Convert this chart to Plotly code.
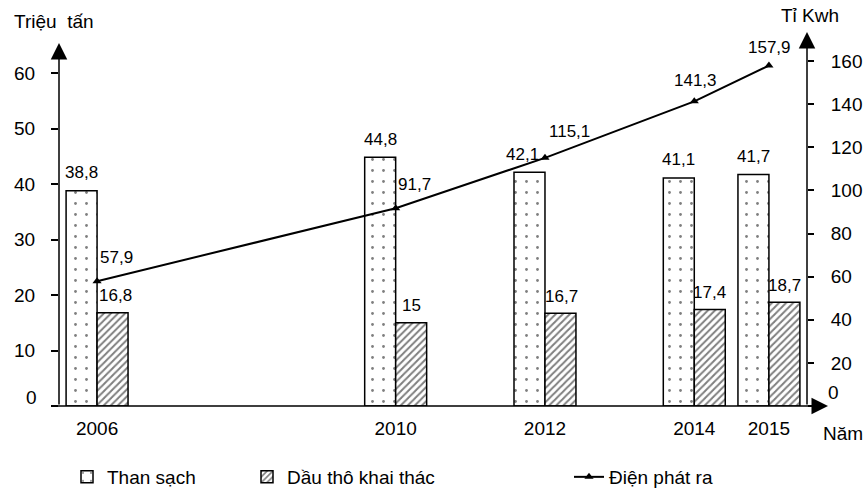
import plotly.graph_objects as go

# ---- data ----
years = [2006, 2010, 2012, 2014, 2015]
year_labels = ["2006", "2010", "2012", "2014", "2015"]
than_sach = [38.8, 44.8, 42.1, 41.1, 41.7]          # Triệu tấn
dau_tho = [16.8, 15.0, 16.7, 17.4, 18.7]            # Triệu tấn
dien = [57.9, 91.7, 115.1, 141.3, 157.9]            # Tỉ Kwh
than_text = ["38,8", "44,8", "42,1", "41,1", "41,7"]
dau_text = ["16,8", "15", "16,7", "17,4", "18,7"]
dien_text = ["57,9", "91,7", "115,1", "141,3", "157,9"]
left_ticks = [0, 10, 20, 30, 40, 50, 60]
right_ticks = [0, 20, 40, 60, 80, 100, 120, 140, 160]

# ---- style ----
FONT = "Arial, Liberation Sans, sans-serif"
W, H = 867, 491
ML, MR, MT, MB = 59, 60, 33, 85
PW, PH = W - ML - MR, H - MT - MB
BW = 0.415
than_dx = [0, 0, -7, 0, 0]
dau_dx = [3, 0, 1, 0, 0]
dien_off = [(19, 24), (19, 24), (25, 26), (1, 21), (1, 18)]
TFS = 19   # general text size
DFS = 17   # data label size


def px_x(px):
    return (px - ML) / PW


def px_y(py):
    return (H - MB - py) / PH


fig = go.Figure()
fig.add_trace(go.Bar(
    x=years, y=than_sach, name="Than sạch", width=BW, offset=-BW,
    marker=dict(color="white", line=dict(color="black", width=1.5),
                pattern=dict(shape=".", fgcolor="black", bgcolor="white", size=11, solidity=0.05)),
    legend="legend",
))
fig.add_trace(go.Bar(
    x=years, y=dau_tho, name="Dầu thô khai thác", width=BW, offset=0,
    marker=dict(color="white", line=dict(color="black", width=1.5),
                pattern=dict(shape="/", fgcolor="black", bgcolor="white", size=5, solidity=0.4)),
    legend="legend2",
))
fig.add_trace(go.Scatter(
    x=years, y=dien, name="Điện phát ra", yaxis="y2", mode="lines+markers",
    line=dict(color="black", width=2), marker=dict(symbol="triangle-up", size=8, color="black"),
    legend="legend3",
))

ann = []
for i, yr in enumerate(years):
    ann.append(dict(x=yr - BW / 2, y=than_sach[i], xref="x", yref="y", text=than_text[i],
                    showarrow=False, yanchor="middle", yshift=18, xshift=than_dx[i],
                    font=dict(size=DFS, color="black", family=FONT)))
    ann.append(dict(x=yr + BW / 2, y=dau_tho[i], xref="x", yref="y", text=dau_text[i],
                    showarrow=False, yanchor="middle", yshift=17, xshift=dau_dx[i],
                    font=dict(size=DFS, color="black", family=FONT)))
    ann.append(dict(x=yr, y=dien[i], xref="x", yref="y2", text=dien_text[i],
                    showarrow=False, xanchor="center", yanchor="middle",
                    xshift=dien_off[i][0], yshift=dien_off[i][1],
                    font=dict(size=DFS, color="black", family=FONT)))

# axis lines with arrows
arrow = dict(text="", showarrow=True, arrowhead=2, arrowsize=2.2, arrowwidth=1.5,
             arrowcolor="black", axref="pixel", ayref="pixel", xref="paper", yref="paper")
ann.append(dict(x=0, y=px_y(43), ax=0, ay=363, **arrow))
ann.append(dict(x=1, y=px_y(32), ax=0, ay=374, **arrow))
ann.append(dict(x=px_x(828), y=0, ax=-776, ay=0, **arrow))

# titles
tf = dict(size=TFS, color="black", family=FONT)
ann.append(dict(x=px_x(12), y=px_y(22), xref="paper", yref="paper", text="Triệu  tấn", showarrow=False,
                xanchor="left", yanchor="middle", font=tf))
ann.append(dict(x=px_x(779), y=px_y(16), xref="paper", yref="paper", text="Tỉ Kwh", showarrow=False,
                xanchor="left", yanchor="middle", font=tf))
ann.append(dict(x=px_x(821), y=px_y(433), xref="paper", yref="paper", text="Năm", showarrow=False,
                xanchor="left", yanchor="middle", font=tf))
# zero labels (raised as in the reference)
ann.append(dict(x=px_x(39), y=px_y(397), xref="paper", yref="paper", text="0", showarrow=False,
                xanchor="right", yanchor="middle", font=tf))
ann.append(dict(x=px_x(826), y=px_y(392), xref="paper", yref="paper", text="0", showarrow=False,
                xanchor="left", yanchor="middle", font=tf))

left_text = ["" if v == 0 else str(v) for v in left_ticks]
right_text = ["" if v == 0 else str(v) for v in right_ticks]

fig.update_layout(
    width=W, height=H, margin=dict(l=ML, r=MR, t=MT, b=MB, autoexpand=False),
    paper_bgcolor="white", plot_bgcolor="white",
    font=dict(family=FONT, size=TFS, color="black"),
    barmode="overlay", showlegend=True,
    xaxis=dict(range=[2005.49, 2015.51], tickvals=years, ticktext=year_labels, showgrid=False,
               zeroline=False, showline=False, ticks="", ticklabelstandoff=9,
               tickfont=tf),
    yaxis=dict(range=[0, PH / 5.55], tickvals=left_ticks, ticktext=left_text, showgrid=False,
               zeroline=False, showline=False, ticks="outside", ticklen=7, tickwidth=1.5,
               tickcolor="black", ticklabelstandoff=12, tickfont=tf),
    yaxis2=dict(range=[0, PH / 2.156], tickvals=right_ticks, ticktext=right_text, overlaying="y",
                side="right", showgrid=False, zeroline=False, showline=False, ticks="outside",
                ticklen=6, tickwidth=1.5, tickcolor="black", ticklabelstandoff=13, tickfont=tf),
    legend=dict(x=px_x(67), y=px_y(477), xanchor="left", yanchor="middle", orientation="h",
                font=tf, bgcolor="rgba(0,0,0,0)"),
    legend2=dict(x=px_x(247), y=px_y(477), xanchor="left", yanchor="middle", orientation="h",
                 font=tf, bgcolor="rgba(0,0,0,0)"),
    legend3=dict(x=px_x(569), y=px_y(477), xanchor="left", yanchor="middle", orientation="h",
                 font=tf, bgcolor="rgba(0,0,0,0)"),
    annotations=ann,
)

fig.write_html("out.html")
